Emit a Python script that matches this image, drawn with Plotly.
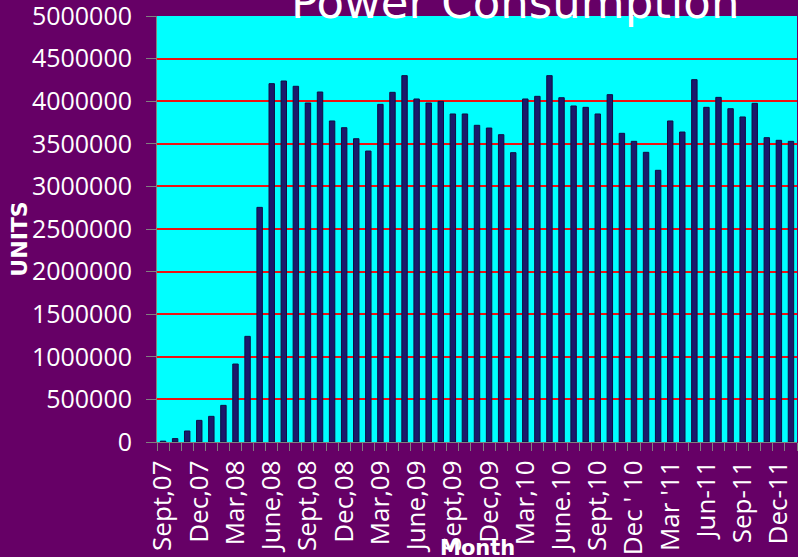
import plotly.graph_objects as go

months = [
    "Sep 2007", "Oct 2007", "Nov 2007", "Dec 2007",
    "Jan 2008", "Feb 2008", "Mar 2008", "Apr 2008", "May 2008", "Jun 2008",
    "Jul 2008", "Aug 2008", "Sep 2008", "Oct 2008", "Nov 2008", "Dec 2008",
    "Jan 2009", "Feb 2009", "Mar 2009", "Apr 2009", "May 2009", "Jun 2009",
    "Jul 2009", "Aug 2009", "Sep 2009", "Oct 2009", "Nov 2009", "Dec 2009",
    "Jan 2010", "Feb 2010", "Mar 2010", "Apr 2010", "May 2010", "Jun 2010",
    "Jul 2010", "Aug 2010", "Sep 2010", "Oct 2010", "Nov 2010", "Dec 2010",
    "Jan 2011", "Feb 2011", "Mar 2011", "Apr 2011", "May 2011", "Jun 2011",
    "Jul 2011", "Aug 2011", "Sep 2011", "Oct 2011", "Nov 2011", "Dec 2011",
    "Jan 2012",
]

units = [
    10000, 40000, 129000, 254000, 301000, 430000, 915000, 1240000, 2754000,
    4206000, 4237000, 4175000, 3979000, 4108000, 3768000, 3689000, 3560000,
    3415000, 3963000, 4104000, 4300000, 4026000, 3979000, 3998000, 3850000,
    3850000, 3717000, 3685000, 3607000, 3396000, 4026000, 4057000, 4300000,
    4041000, 3944000, 3928000, 3850000, 4077000, 3623000, 3529000, 3400000,
    3189000, 3768000, 3638000, 4253000, 3928000, 4045000, 3912000, 3815000,
    3975000, 3572000, 3541000, 3529000,
]

tick_labels = [
    "Sept,07", "Dec,07", "Mar,08", "June,08", "Sept,08", "Dec,08",
    "Mar,09", "June,09", "Sept,09", "Dec,09", "Mar,10", "June.10",
    "Sept,10", "Dec ' 10", "Mar '11", "Jun-11", "Sep-11", "Dec-11",
]
label_every = 3

ticktext = []
for i, m in enumerate(months):
    if i % label_every == 0 and i // label_every < len(tick_labels):
        ticktext.append(tick_labels[i // label_every])
    else:
        ticktext.append("")

y_ticks = list(range(0, 5000001, 500000))

fig = go.Figure(
    go.Bar(
        x=months,
        y=units,
        marker=dict(color="#1b1a6b", line=dict(color="#0f0f45", width=1)),
    )
)

fig.update_layout(
    width=798,
    height=557,
    margin=dict(l=157, r=1, t=16, b=115),
    paper_bgcolor="#660066",
    plot_bgcolor="#00ffff",
    bargap=0.55,
    showlegend=False,
    font=dict(family="Open Sans", color="white"),
)

fig.update_xaxes(
    type="category",
    automargin=False,
    tickmode="array",
    tickvals=months,
    ticktext=ticktext,
    tickangle=-90,
    tickson="boundaries",
    ticks="outside",
    ticklen=8,
    tickcolor="#808080",
    tickwidth=1,
    showgrid=False,
    showline=True,
    linecolor="#808080",
    linewidth=1,
    tickfont=dict(family="Open Sans", size=26, color="white"),
    ticklabelstandoff=7,
    ticklabeloverflow="allow",
    range=[-0.5, len(months) - 0.5],
)

fig.update_yaxes(
    automargin=False,
    range=[0, 5000000],
    tickmode="array",
    tickvals=y_ticks,
    ticktext=[str(v) for v in y_ticks],
    ticks="outside",
    ticklen=10,
    tickcolor="#808080",
    showgrid=True,
    gridcolor="#ee1111",
    gridwidth=1.5,
    zeroline=False,
    showline=True,
    linecolor="#808080",
    linewidth=1,
    tickfont=dict(family="Open Sans", size=25, color="white"),
    ticklabelstandoff=9,
    ticklabeloverflow="allow",
)

fig.add_annotation(
    text="Power Consumption", xref="paper", yref="paper",
    x=0.56, y=1, xanchor="center", yanchor="bottom", yshift=-15,
    showarrow=False, font=dict(family="DejaVu Sans", size=45, color="white"),
)
fig.add_annotation(
    text="<b>UNITS</b>", xref="paper", yref="paper",
    x=0, xshift=-137, y=0.475, xanchor="center", yanchor="middle",
    textangle=-90, showarrow=False,
    font=dict(family="DejaVu Sans", size=22, color="white"),
)
fig.add_annotation(
    text="<b>Month</b>", xref="paper", yref="paper",
    x=0.5, y=0, yshift=-92, xanchor="center", yanchor="top",
    showarrow=False, font=dict(family="DejaVu Sans", size=21, color="white"),
)

fig.write_html(
    "out.html",
    config={"displayModeBar": False},
    post_script="document.body.style.margin='0';document.body.style.overflow='hidden';",
)
